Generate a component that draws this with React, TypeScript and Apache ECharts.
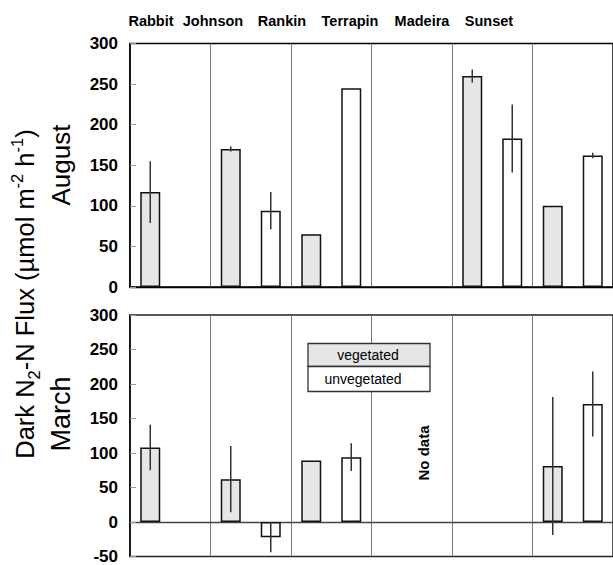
import React, { useEffect, useRef } from 'react';
import * as echarts from 'echarts';

const categories = ['Rabbit', 'Johnson', 'Rankin', 'Terrapin', 'Madeira', 'Sunset'];
const augustVegetated = [117, 170, 65, null, 260, 100];
const augustVegetatedErr = [38, 3, null, null, 8, null];
const augustUnvegetated = [null, 94, 245, null, 183, 162];
const augustUnvegetatedErr = [null, 23, null, null, 42, 3.5];
const marchVegetated = [108, 62, 89, null, null, 81];
const marchVegetatedErr = [33, 48, null, null, null, 100];
const marchUnvegetated = [null, -22, 94, null, null, 171];
const marchUnvegetatedErr = [null, 22, 20, null, null, 47];
const legendNames = ['vegetated', 'unvegetated'];
const noDataLabel = 'No data';

const FONT = '"Liberation Sans", Arial, sans-serif';
const labelCenters = [151, 213, 282, 350, 422, 489];

function errData(vals: (number | null)[], errs: (number | null)[], side: number) {
  const out: number[][] = [];
  vals.forEach((v, i) => {
    const e = errs[i];
    if (v != null && e != null) out.push([i, v, e, side]);
  });
  return out;
}

const renderErr = (params: any, api: any) => {
  const i = api.value(0);
  const v = api.value(1);
  const e = api.value(2);
  const side = api.value(3);
  const top = api.coord([i, v + e]);
  const bot = api.coord([i, v - e]);
  const x = top[0] + side * 20;
  return {
    type: 'line',
    shape: { x1: x, y1: top[1], x2: x, y2: bot[1] },
    style: { stroke: '#333', lineWidth: 1.5 },
  };
};

export default function App() {
  const ref = useRef<HTMLDivElement>(null);
  useEffect(() => {
    if (!ref.current) return;
    const chart = echarts.init(ref.current, undefined, { renderer: 'svg' });
    const xAxisBase = (gridIndex: number, lineColor: string) => ({
      type: 'category',
      gridIndex,
      data: categories,
      boundaryGap: true,
      axisLabel: { show: false },
      axisTick: { show: false },
      axisLine: { show: true, onZero: true, lineStyle: { color: lineColor, width: 1.3 } },
      splitLine: { show: true, lineStyle: { color: '#777', width: 1 } },
    });
    const yAxisBase = (gridIndex: number, min: number) => ({
      type: 'value',
      gridIndex,
      min,
      max: 300,
      interval: 50,
      axisLine: { show: true, lineStyle: { color: '#000', width: 1.5 } },
      axisTick: { show: true, inside: true, length: 6, lineStyle: { color: '#999' } },
      splitLine: { show: false },
      axisLabel: {
        fontSize: 17,
        fontWeight: 'bold',
        color: '#000',
        fontFamily: FONT,
        margin: 12,
      },
    });
    const vegStyle = { color: '#e6e6e6', borderColor: '#111', borderWidth: 1.5 };
    const unvegStyle = { color: '#ffffff', borderColor: '#111', borderWidth: 1.5 };
    const barBase = { barWidth: 20, barGap: '100%', silent: true };

    chart.setOption({
      animation: false,
      backgroundColor: '#fff',
      grid: [
        { left: 130, top: 43.5, width: 488, height: 243.5, show: true, borderColor: '#000', borderWidth: 1.5 },
        { left: 130, top: 315, width: 488, height: 243.5, show: true, borderColor: '#222', borderWidth: 1.5 },
      ],
      xAxis: [xAxisBase(0, '#000'), xAxisBase(1, '#444')],
      yAxis: [yAxisBase(0, 0), yAxisBase(1, -50)],
      series: [
        { ...barBase, type: 'bar', name: legendNames[0], xAxisIndex: 0, yAxisIndex: 0, data: augustVegetated, itemStyle: vegStyle },
        { ...barBase, type: 'bar', name: legendNames[1], xAxisIndex: 0, yAxisIndex: 0, data: augustUnvegetated, itemStyle: unvegStyle },
        { ...barBase, type: 'bar', name: legendNames[0], xAxisIndex: 1, yAxisIndex: 1, data: marchVegetated, itemStyle: vegStyle },
        { ...barBase, type: 'bar', name: legendNames[1], xAxisIndex: 1, yAxisIndex: 1, data: marchUnvegetated, itemStyle: unvegStyle },
        {
          type: 'custom', xAxisIndex: 0, yAxisIndex: 0, z: 5, silent: true,
          renderItem: renderErr,
          data: [...errData(augustVegetated, augustVegetatedErr, -1), ...errData(augustUnvegetated, augustUnvegetatedErr, 1)],
        },
        {
          type: 'custom', xAxisIndex: 1, yAxisIndex: 1, z: 5, silent: true,
          renderItem: renderErr,
          data: [...errData(marchVegetated, marchVegetatedErr, -1), ...errData(marchUnvegetated, marchUnvegetatedErr, 1)],
        },
      ],
      graphic: [
        ...categories.map((c, i) => ({
          type: 'text',
          x: labelCenters[i],
          y: 21,
          z: 100,
          style: { text: c, fontSize: 14.5, fontWeight: 'bold', fontFamily: FONT, fill: '#000', align: 'center', verticalAlign: 'middle' },
        })),
        {
          type: 'text',
          x: 25,
          y: 294,
          rotation: Math.PI / 2,
          z: 100,
          style: {
            text: 'Dark N{sub|2}-N Flux (µmol m{sup|-2} h{sup|-1})',
            fontSize: 25.5,
            fontFamily: FONT,
            fill: '#000',
            align: 'center',
            verticalAlign: 'middle',
            lineHeight: 34,
            rich: {
              sub: { fontSize: 16.5, fontFamily: FONT, fill: '#000', verticalAlign: 'bottom', lineHeight: 34 },
              sup: { fontSize: 16.5, fontFamily: FONT, fill: '#000', verticalAlign: 'top', lineHeight: 34 },
            },
          },
        },
        {
          type: 'text', x: 61, y: 165, rotation: Math.PI / 2, z: 100,
          style: { text: 'August', fontSize: 26, fontFamily: FONT, fill: '#000', align: 'center', verticalAlign: 'middle' },
        },
        {
          type: 'text', x: 61, y: 414, rotation: Math.PI / 2, z: 100,
          style: { text: 'March', fontSize: 27, fontFamily: FONT, fill: '#000', align: 'center', verticalAlign: 'middle' },
        },
        {
          type: 'text', x: 423, y: 453, rotation: Math.PI / 2, z: 100,
          style: { text: noDataLabel, fontSize: 15, fontWeight: 'bold', fontFamily: FONT, fill: '#000', align: 'center', verticalAlign: 'middle' },
        },
        {
          type: 'rect', z: 100,
          shape: { x: 308, y: 343.5, width: 122, height: 23 },
          style: { fill: '#e6e6e6', stroke: '#333', lineWidth: 1.3 },
        },
        {
          type: 'rect', z: 100,
          shape: { x: 308, y: 366.5, width: 122, height: 25 },
          style: { fill: '#ffffff', stroke: '#333', lineWidth: 1.3 },
        },
        {
          type: 'text', x: 368, y: 355, z: 101,
          style: { text: legendNames[0], fontSize: 14, fontFamily: FONT, fill: '#000', align: 'center', verticalAlign: 'middle' },
        },
        {
          type: 'text', x: 363, y: 378.5, z: 101,
          style: { text: legendNames[1], fontSize: 14, fontFamily: FONT, fill: '#000', align: 'center', verticalAlign: 'middle' },
        },
      ],
    });
    return () => chart.dispose();
  }, []);
  return <div ref={ref} style={{ position: 'fixed', left: 0, top: 0, width: 613, height: 565 }} />;
}
